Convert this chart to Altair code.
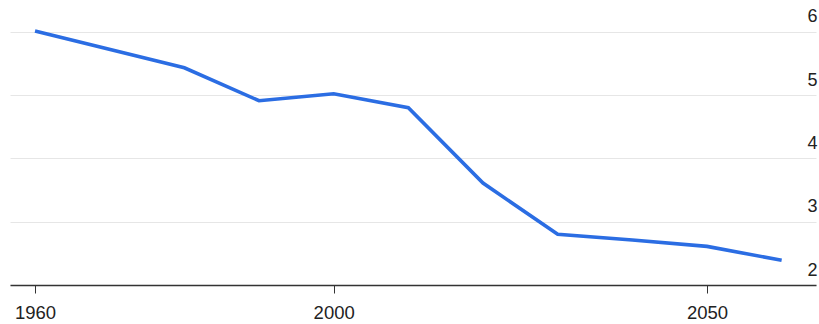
import altair as alt
import pandas as pd

years = [1960, 1980, 1990, 2000, 2010, 2020, 2030, 2040, 2050, 2060]
values = [6.01, 5.43, 4.91, 5.02, 4.80, 3.61, 2.80, 2.71, 2.61, 2.39]
x_ticks = [1960, 2000, 2050]
y_ticks = [2, 3, 4, 5, 6]

df = pd.DataFrame({"year": years, "value": values})

FONT = "Liberation Sans"

chart = alt.Chart(df).mark_line(
    color="#2b6de3", strokeWidth=3.6, strokeJoin="miter", strokeCap="butt"
).encode(
    x=alt.X(
        "year:Q",
        scale=alt.Scale(domain=[1956.65, 2064.6], nice=False, zero=False),
        axis=alt.Axis(
            values=x_ticks, format="d", title=None, grid=False,
            domainColor="#333333", domainWidth=1.5,
            tickColor="#333333", tickSize=8, tickWidth=1,
            labelFont=FONT, labelFontSize=18.5, labelColor="#222222",
            labelPadding=10, labelFlush=False,
        ),
    ),
    y=alt.Y(
        "value:Q",
        scale=alt.Scale(domain=[2, 6.5], nice=False, zero=False),
        axis=alt.Axis(
            values=y_ticks, format="d", title=None, orient="right",
            domain=False, ticks=False,
            grid=True, gridColor="#e6e6e6", gridWidth=1,
            labelFont=FONT, labelFontSize=18, labelColor="#222222",
            labelAlign="right", labelBaseline="alphabetic",
            labelPadding=1, labelOffset=-10,
        ),
    ),
).properties(
    width=806,
    height=285,
    autosize=alt.AutoSizeParams(type="none"),
    padding={"left": 10, "top": 0, "right": 3, "bottom": 39},
).configure_view(stroke=None)

chart.save("out.html", embed_options={"renderer": "svg", "actions": False})
